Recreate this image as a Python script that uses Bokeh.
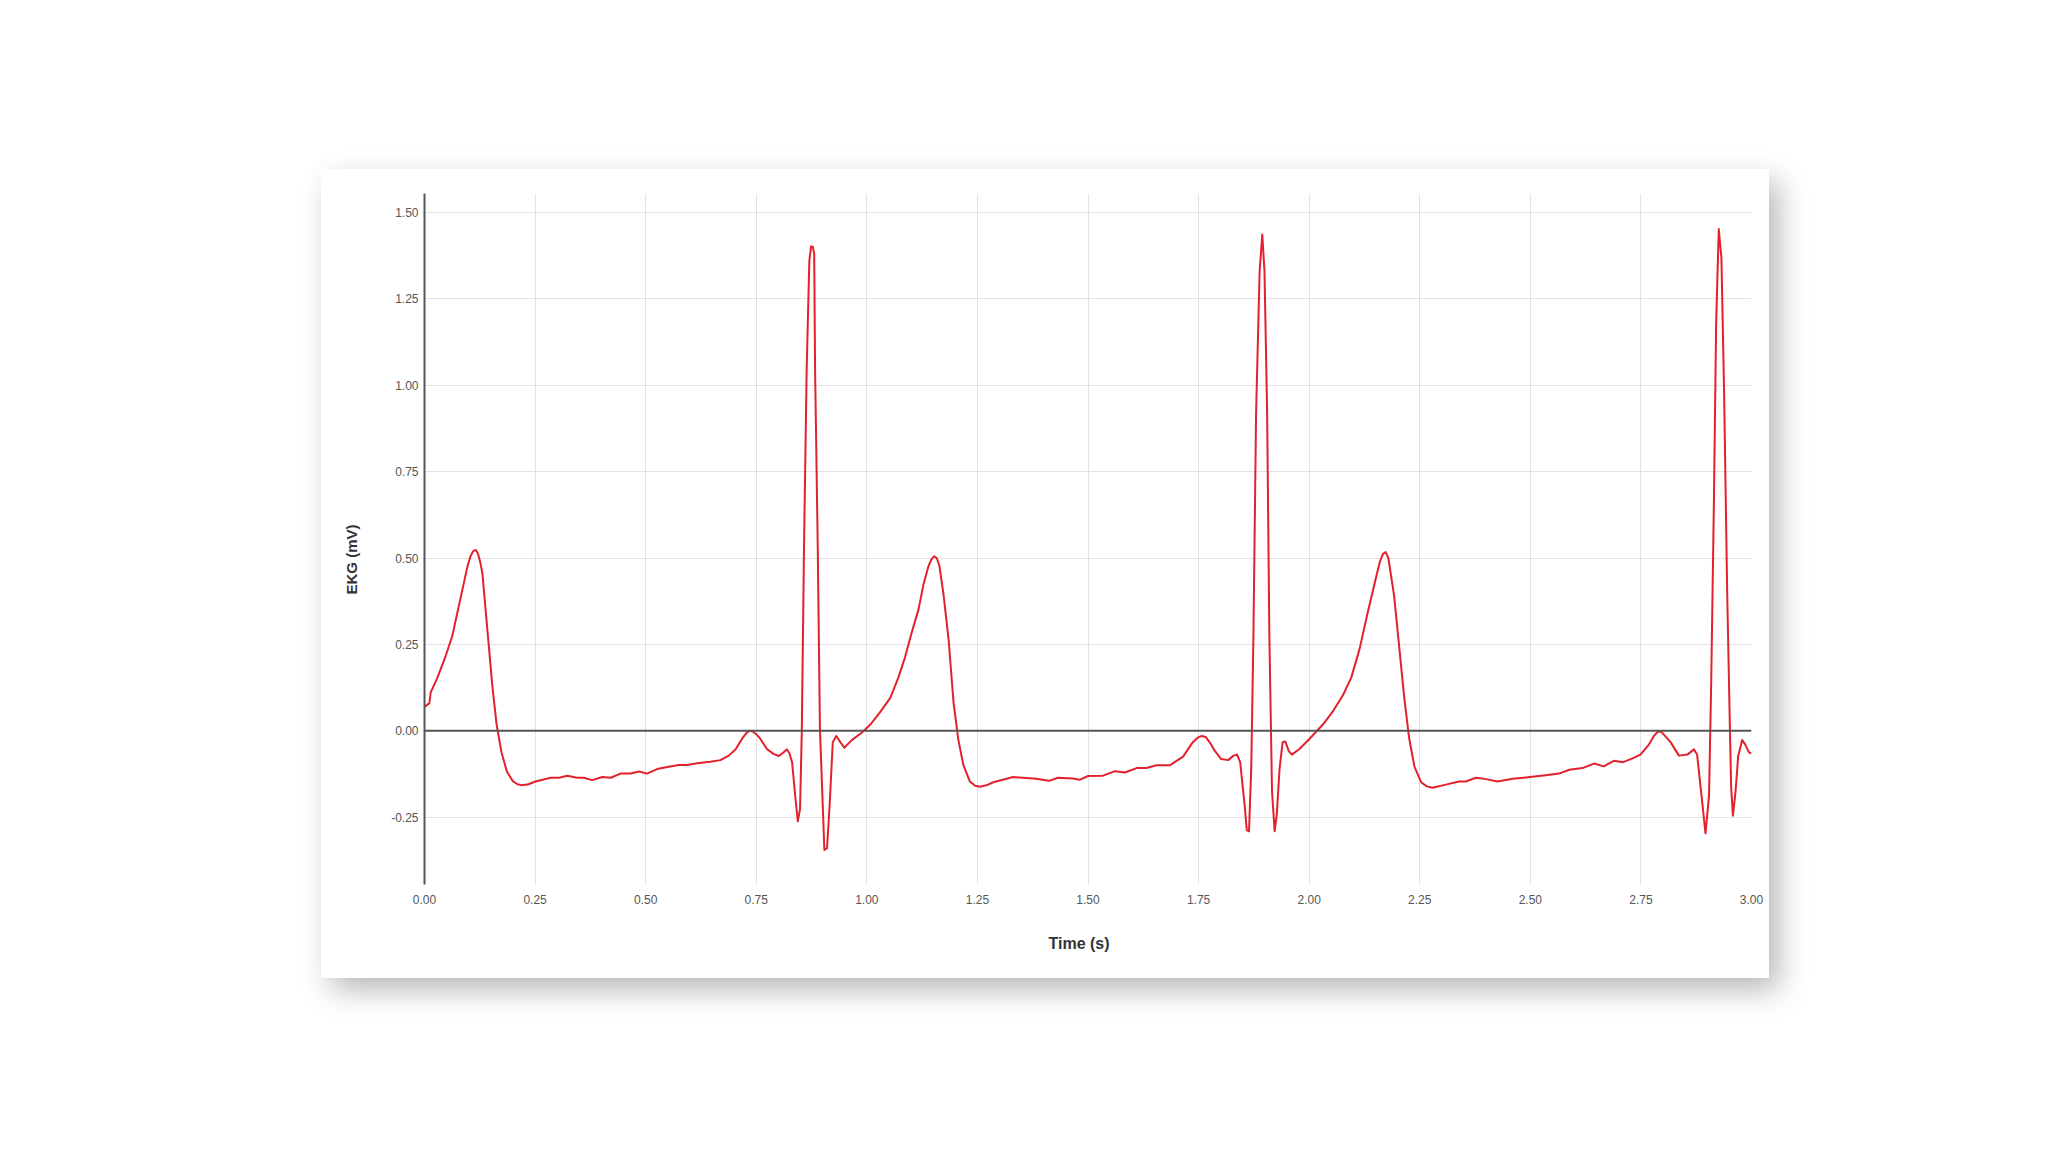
from bokeh.plotting import figure
from bokeh.models import (Range1d, FixedTicker, PrintfTickFormatter, Span, Title,
                          Spacer, ColumnDataSource)
from bokeh.layouts import column, row
from bokeh.embed import file_html
from bokeh.resources import INLINE

time_s = [0.000, 0.011, 0.014, 0.029, 0.048, 0.063, 0.074, 0.086, 0.097, 0.104,
          0.110, 0.116, 0.121, 0.126, 0.131, 0.138, 0.146, 0.153, 0.163, 0.174,
          0.186, 0.199, 0.210, 0.221, 0.235, 0.251, 0.285, 0.304, 0.323, 0.345,
          0.360, 0.379, 0.402, 0.421, 0.443, 0.466, 0.485, 0.503, 0.526, 0.549,
          0.575, 0.594, 0.616, 0.646, 0.669, 0.688, 0.703, 0.718, 0.728, 0.735,
          0.742, 0.750, 0.759, 0.774, 0.789, 0.801, 0.812, 0.819, 0.825, 0.831,
          0.838, 0.844, 0.849, 0.853, 0.858, 0.864, 0.870, 0.874, 0.878, 0.881,
          0.883, 0.889, 0.894, 0.901, 0.904, 0.910, 0.916, 0.923, 0.931, 0.940,
          0.949, 0.966, 0.989, 1.008, 1.030, 1.053, 1.071, 1.086, 1.101, 1.117,
          1.128, 1.139, 1.146, 1.152, 1.158, 1.164, 1.173, 1.185, 1.196, 1.207,
          1.218, 1.233, 1.245, 1.256, 1.270, 1.286, 1.331, 1.383, 1.412, 1.432,
          1.466, 1.481, 1.500, 1.534, 1.561, 1.583, 1.610, 1.632, 1.655, 1.685,
          1.715, 1.737, 1.748, 1.757, 1.766, 1.776, 1.786, 1.801, 1.817, 1.829,
          1.837, 1.844, 1.854, 1.859, 1.864, 1.869, 1.874, 1.880, 1.888, 1.894,
          1.899, 1.905, 1.910, 1.916, 1.922, 1.927, 1.933, 1.940, 1.946, 1.954,
          1.961, 1.978, 2.001, 2.031, 2.054, 2.076, 2.095, 2.114, 2.132, 2.151,
          2.160, 2.167, 2.173, 2.179, 2.192, 2.203, 2.215, 2.226, 2.238, 2.253,
          2.266, 2.279, 2.309, 2.339, 2.354, 2.377, 2.400, 2.426, 2.460, 2.499,
          2.535, 2.565, 2.588, 2.618, 2.644, 2.666, 2.689, 2.710, 2.731, 2.749,
          2.768, 2.780, 2.788, 2.796, 2.804, 2.817, 2.836, 2.855, 2.870, 2.877,
          2.887, 2.896, 2.904, 2.909, 2.915, 2.920, 2.926, 2.932, 2.938, 2.945,
          2.951, 2.954, 2.958, 2.964, 2.970, 2.979, 2.986, 2.994, 3.000]

ekg_mv = [0.069, 0.080, 0.111, 0.153, 0.217, 0.275, 0.340, 0.410, 0.475, 0.505,
          0.520, 0.523, 0.512, 0.488, 0.455, 0.352, 0.237, 0.134, 0.018, -0.062,
          -0.117, -0.145, -0.155, -0.158, -0.155, -0.147, -0.136, -0.136, -0.130, -0.136,
          -0.136, -0.143, -0.134, -0.136, -0.124, -0.124, -0.118, -0.124, -0.111, -0.105,
          -0.099, -0.099, -0.094, -0.090, -0.085, -0.072, -0.054, -0.023, -0.006, 0.000,
          -0.002, -0.010, -0.023, -0.053, -0.067, -0.073, -0.062, -0.054, -0.065, -0.091,
          -0.188, -0.262, -0.226, 0.000, 0.533, 1.047, 1.360, 1.402, 1.400, 1.380,
          1.047, 0.533, 0.005, -0.239, -0.345, -0.340, -0.214, -0.033, -0.015, -0.033,
          -0.049, -0.027, -0.005, 0.018, 0.054, 0.095, 0.153, 0.211, 0.282, 0.352,
          0.423, 0.475, 0.496, 0.505, 0.500, 0.478, 0.398, 0.262, 0.082, -0.027,
          -0.098, -0.147, -0.159, -0.162, -0.158, -0.149, -0.134, -0.139, -0.145, -0.136,
          -0.138, -0.142, -0.131, -0.130, -0.117, -0.121, -0.108, -0.108, -0.100, -0.100,
          -0.075, -0.033, -0.020, -0.015, -0.018, -0.035, -0.057, -0.082, -0.085, -0.072,
          -0.069, -0.091, -0.214, -0.288, -0.291, -0.111, 0.275, 0.919, 1.330, 1.436,
          1.330, 0.919, 0.275, -0.175, -0.291, -0.239, -0.111, -0.033, -0.031, -0.059,
          -0.069, -0.053, -0.023, 0.018, 0.057, 0.102, 0.153, 0.237, 0.340, 0.443,
          0.490, 0.512, 0.517, 0.500, 0.391, 0.250, 0.095, -0.021, -0.104, -0.149,
          -0.161, -0.165, -0.156, -0.147, -0.147, -0.136, -0.140, -0.147, -0.139, -0.134,
          -0.129, -0.124, -0.113, -0.108, -0.095, -0.103, -0.087, -0.091, -0.080, -0.069,
          -0.040, -0.014, -0.003, -0.003, -0.014, -0.033, -0.072, -0.069, -0.054, -0.069,
          -0.188, -0.297, -0.188, 0.147, 0.661, 1.176, 1.452, 1.369, 0.983, 0.404,
          0.018, -0.162, -0.246, -0.175, -0.072, -0.027, -0.040, -0.062, -0.066]

x_ticks = [0.0, 0.25, 0.5, 0.75, 1.0, 1.25, 1.5, 1.75, 2.0, 2.25, 2.5, 2.75, 3.0]
y_ticks = [-0.25, 0.0, 0.25, 0.5, 0.75, 1.0, 1.25, 1.5]
x_title = "Time (s)"
y_title = "EKG (mV)"

FONT = "Liberation Sans"

p = figure(width=1448, height=809, output_backend="svg", toolbar_location=None,
           x_range=Range1d(0, 3), y_range=Range1d(-0.445, 1.555),
           min_border_left=103, min_border_right=18, min_border_top=24,
           min_border_bottom=92)
p.background_fill_color = "white"
p.border_fill_color = "white"
p.outline_line_color = None
p.styles = {"box-shadow": "10px 12px 28px rgba(0,0,0,0.28)"}

src = ColumnDataSource(dict(t=time_s, v=ekg_mv))

p.xgrid.ticker = FixedTicker(ticks=x_ticks)
p.ygrid.ticker = FixedTicker(ticks=y_ticks)
for g in (p.xgrid, p.ygrid):
    g.grid_line_color = "#e2e2e2"
    g.grid_line_width = 1

p.add_layout(Span(location=0, dimension="width", line_color="#555555", line_width=2))

p.line("t", "v", source=src, line_color="#e3212d", line_width=2, line_join="round")

xa = p.xaxis[0]
xa.ticker = FixedTicker(ticks=x_ticks)
xa.formatter = PrintfTickFormatter(format="%.2f")
xa.axis_line_color = None
xa.major_tick_line_color = None
xa.minor_tick_line_color = None
xa.major_label_standoff = 4
xa.major_label_text_font = FONT
xa.major_label_text_font_size = "12px"
xa.major_label_text_color = "#555555"

ya = p.yaxis[0]
ya.ticker = FixedTicker(ticks=y_ticks)
ya.formatter = PrintfTickFormatter(format="%.2f")
ya.axis_line_color = "#555555"
ya.axis_line_width = 2
ya.major_tick_line_color = None
ya.minor_tick_line_color = None
ya.major_label_standoff = 0
ya.major_label_text_font = FONT
ya.major_label_text_font_size = "12px"
ya.major_label_text_color = "#555555"

xt = Title(text=x_title, align="left", offset=624, standoff=53,
           text_font=FONT, text_font_size="16px", text_font_style="bold",
           text_color="#333333")
# empty spacer title pushes the y title outward without growing its own panel
gap = Title(text=" ", standoff=16, text_font=FONT, text_font_size="1px")
yt = Title(text=y_title, align="left", offset=290, standoff=20,
           text_font=FONT, text_font_size="15px", text_font_style="bold",
           text_color="#333333")
p.add_layout(xt, "below")
p.add_layout(gap, "left")
p.add_layout(yt, "left")

layout = column(Spacer(height=169), row(Spacer(width=321), p))
open("out.html", "w").write(file_html(layout, INLINE))
